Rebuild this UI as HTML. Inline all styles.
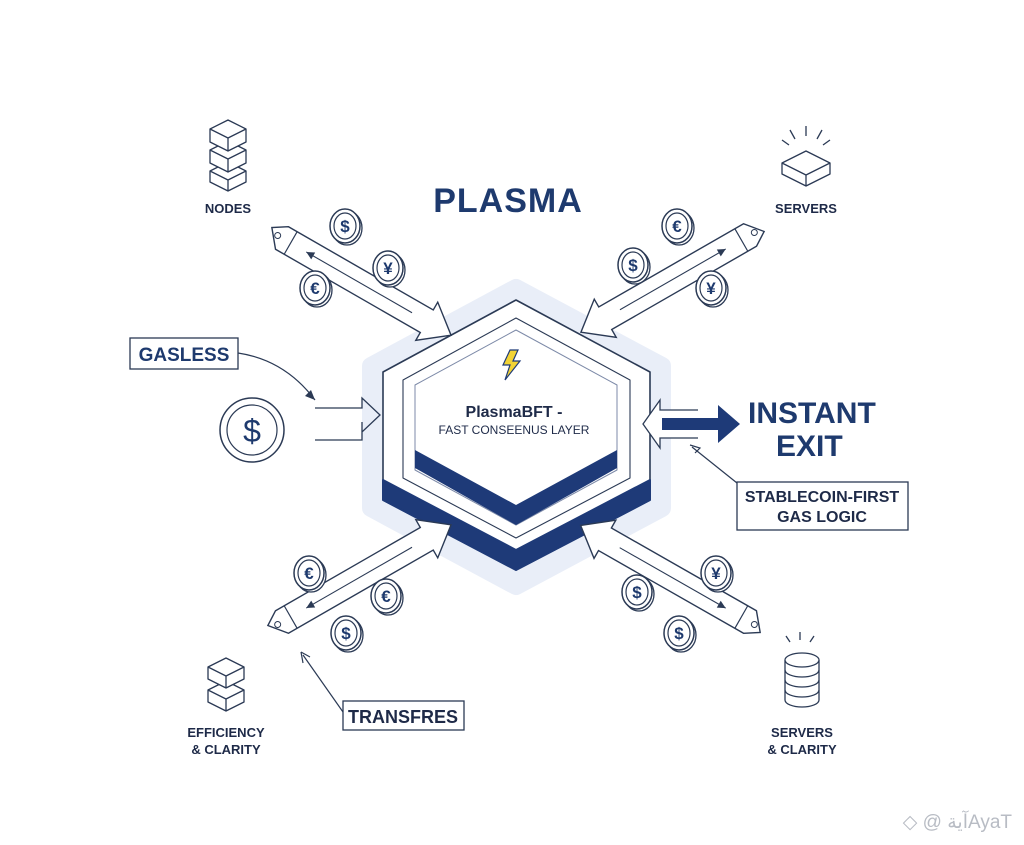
<!DOCTYPE html>
<html><head><meta charset="utf-8"><style>
html,body{margin:0;padding:0;background:#fff;}
svg{display:block;font-family:"Liberation Sans",sans-serif;}
</style></head><body>
<svg width="1024" height="845" viewBox="0 0 1024 845" xmlns="http://www.w3.org/2000/svg">
<defs>
<g id="arr">
  <path d="M0,-13 L-14,-4 L0,13 L167,13 L167,22 L195,0 L167,-22 L167,-13 Z" fill="#fff" stroke="#2b3a55" stroke-width="1.4"/>
  <path d="M10,-13 L10,13" stroke="#2b3a55" stroke-width="1.2"/>
  <circle cx="-5" cy="0" r="3" fill="none" stroke="#2b3a55" stroke-width="1"/>
  <path d="M28,0 L150,0" stroke="#2b3a55" stroke-width="1.1"/>
  <path d="M28,0 L36,-4 L36,4 Z" fill="#2b3a55"/>
</g>
<g id="coin">
  <ellipse cx="2" cy="2" rx="15" ry="17" fill="#fff" stroke="#2b3a55" stroke-width="1.3"/>
  <ellipse cx="0" cy="0" rx="15" ry="17" fill="#fff" stroke="#2b3a55" stroke-width="1.5"/>
  <ellipse cx="0" cy="0" rx="11" ry="13" fill="none" stroke="#2b3a55" stroke-width="1.2"/>
</g>
</defs>

<!-- halo & hexagon -->
<polygon points="516,288 371,366 371,508 516,586 662,508 662,366" fill="#e9eef8" stroke="#e9eef8" stroke-width="18" stroke-linejoin="round"/>
<polygon points="516,300 383,372 383,500 516,570 650,500 650,372" fill="#fff" stroke="#2b3a55" stroke-width="1.6" stroke-linejoin="round"/>
<polygon points="383,480 516,550 650,480 650,500 516,570 383,500" fill="#1e3a78" stroke="#1e3a78" stroke-width="2" stroke-linejoin="round"/>
<polygon points="516,318 403,380 403,478 516,538 630,478 630,380" fill="#fff" stroke="#2b3a55" stroke-width="1.1" stroke-linejoin="round"/>
<polygon points="516,330 415,385 415,470 516,525 617,470 617,385" fill="#fff" stroke="#7d8aa8" stroke-width="1" stroke-linejoin="round"/>
<polygon points="415,450 516,505 617,450 617,468 516,525 415,468" fill="#1e3a78"/>
<path d="M510,350 L503,365 L510,365 L505,380 L520,361 L513,361 L518,350 Z" fill="#f2d335" stroke="#1e3a78" stroke-width="1.2"/>
<text x="514" y="417" font-size="16" font-weight="bold" fill="#1e2a48" text-anchor="middle">PlasmaBFT -</text>
<text x="514" y="434" font-size="12" fill="#1e2a48" text-anchor="middle">FAST CONSEENUS LAYER</text>

<!-- title -->
<text x="508" y="212" font-size="34" font-weight="bold" fill="#1e3a6e" text-anchor="middle" letter-spacing="1">PLASMA</text>

<!-- diagonal arrows -->
<use href="#arr" transform="translate(282,238) rotate(29.9)"/>
<use href="#arr" transform="translate(750,235) rotate(150.1)"/>
<use href="#arr" transform="translate(282,622) rotate(-29.9)"/>
<use href="#arr" transform="translate(750,622) rotate(209.7)"/>

<!-- coins -->
<g font-size="17" font-weight="bold" fill="#1e3a6e" text-anchor="middle">
<use href="#coin" x="345" y="226"/><text x="345" y="232">$</text>
<use href="#coin" x="388" y="268"/><text x="388" y="274">¥</text>
<use href="#coin" x="315" y="288"/><text x="315" y="294">€</text>
<use href="#coin" x="677" y="226"/><text x="677" y="232">€</text>
<use href="#coin" x="633" y="265"/><text x="633" y="271">$</text>
<use href="#coin" x="711" y="288"/><text x="711" y="294">¥</text>
<use href="#coin" x="309" y="573"/><text x="309" y="579">€</text>
<use href="#coin" x="386" y="596"/><text x="386" y="602">€</text>
<use href="#coin" x="346" y="633"/><text x="346" y="639">$</text>
<use href="#coin" x="716" y="573"/><text x="716" y="579">¥</text>
<use href="#coin" x="637" y="592"/><text x="637" y="598">$</text>
<use href="#coin" x="679" y="633"/><text x="679" y="639">$</text>
</g>

<!-- left: gasless -->
<rect x="130" y="338" width="108" height="31" fill="#fff" stroke="#2b3a55" stroke-width="1.3"/>
<text x="184" y="361" font-size="19" font-weight="bold" fill="#1e3a6e" text-anchor="middle">GASLESS</text>
<path d="M238,353 Q285,360 315,400" fill="none" stroke="#2b3a55" stroke-width="1.2"/>
<path d="M315,400 L305,396 L311,390 Z" fill="#2b3a55"/>
<circle cx="252" cy="430" r="32" fill="#fff" stroke="#2b3a55" stroke-width="1.5"/>
<circle cx="252" cy="430" r="25" fill="none" stroke="#2b3a55" stroke-width="1.2"/>
<text x="252" y="442" font-size="32" fill="#1e3a6e" text-anchor="middle">$</text>
<path d="M315,408 L362,408 L362,398 L380,415 L362,432 L362,422 M315,440 L362,440 L362,430" fill="none" stroke="#2b3a55" stroke-width="1.3"/>

<!-- right: instant exit -->
<path d="M698,410 L660,410 L660,400 L643,424 L660,448 L660,438 L698,438" fill="#fff" stroke="#2b3a55" stroke-width="1.3"/>
<rect x="662" y="418" width="58" height="12" fill="#1e3a78"/>
<path d="M718,405 L740,424 L718,443 Z" fill="#1e3a78"/>
<text x="748" y="423" font-size="30" font-weight="bold" fill="#1e3a6e">INSTANT</text>
<text x="776" y="456" font-size="30" font-weight="bold" fill="#1e3a6e">EXIT</text>
<rect x="737" y="482" width="171" height="48" fill="#fff" stroke="#2b3a55" stroke-width="1.3"/>
<text x="822" y="502" font-size="16" font-weight="bold" fill="#1e2a48" text-anchor="middle">STABLECOIN-FIRST</text>
<text x="822" y="522" font-size="16" font-weight="bold" fill="#1e2a48" text-anchor="middle">GAS LOGIC</text>
<path d="M737,483 L692,447" stroke="#2b3a55" stroke-width="1.2"/>
<path d="M690,445 L700,448 L695,453" fill="none" stroke="#2b3a55" stroke-width="1.2"/>

<!-- bottom: transfres -->
<rect x="343" y="701" width="121" height="29" fill="#fff" stroke="#2b3a55" stroke-width="1.3"/>
<text x="403" y="723" font-size="18" font-weight="bold" fill="#1e2a48" text-anchor="middle">TRANSFRES</text>
<path d="M343,712 L303,655" stroke="#2b3a55" stroke-width="1.2"/>
<path d="M301,652 L303,663 M301,652 L310,657" stroke="#2b3a55" stroke-width="1.2"/>

<!-- corner icons -->
<g fill="#fff" stroke="#2b3a55" stroke-width="1.3" stroke-linejoin="round">
  <!-- nodes stack -->
  <path d="M210,171 L228,162 L246,171 L246,182 L228,191 L210,182 Z M210,171 L228,180 L246,171 M228,180 L228,191"/>
  <path d="M210,150 L228,141 L246,150 L246,163 L228,172 L210,163 Z M210,150 L228,159 L246,150 M228,159 L228,172"/>
  <path d="M210,129 L228,120 L246,129 L246,142 L228,151 L210,142 Z M210,129 L228,138 L246,129 M228,138 L228,151"/>
  <!-- servers box -->
  <path d="M782,163 L806,151 L830,163 L830,174 L806,186 L782,174 Z M782,163 L806,175 L830,163 M806,175 L806,186"/>
  <path d="M806,126 L806,136 M790,130 L795,139 M822,130 L817,139 M782,140 L789,145 M830,140 L823,145" fill="none"/>
  <!-- efficiency cubes -->
  <path d="M208,690 L226,681 L244,690 L244,702 L226,711 L208,702 Z M208,690 L226,699 L244,690 M226,699 L226,711"/>
  <path d="M208,667 L226,658 L244,667 L244,679 L226,688 L208,679 Z M208,667 L226,676 L244,667 M226,676 L226,688"/>
  <!-- database -->
  <path d="M785,660 L785,700 A17,7 0 0 0 819,700 L819,660" />
  <ellipse cx="802" cy="660" rx="17" ry="7"/>
  <path d="M785,670 A17,7 0 0 0 819,670 M785,680 A17,7 0 0 0 819,680 M785,690 A17,7 0 0 0 819,690" fill="none"/>
  <path d="M800,632 L800,640 M786,636 L790,642 M814,636 L810,642" fill="none"/>
</g>

<g font-size="13" font-weight="bold" fill="#1e2a48" text-anchor="middle">
<text x="228" y="213">NODES</text>
<text x="806" y="213">SERVERS</text>
<text x="226" y="737">EFFICIENCY</text>
<text x="226" y="754">&amp; CLARITY</text>
<text x="802" y="737">SERVERS</text>
<text x="802" y="754">&amp; CLARITY</text>
</g>

<text x="1012" y="828" font-size="19" fill="#b8bcc4" text-anchor="end" font-family="Liberation Sans, DejaVu Sans, sans-serif">◇ @ آيةAyaT</text>
</svg>
</body></html>
